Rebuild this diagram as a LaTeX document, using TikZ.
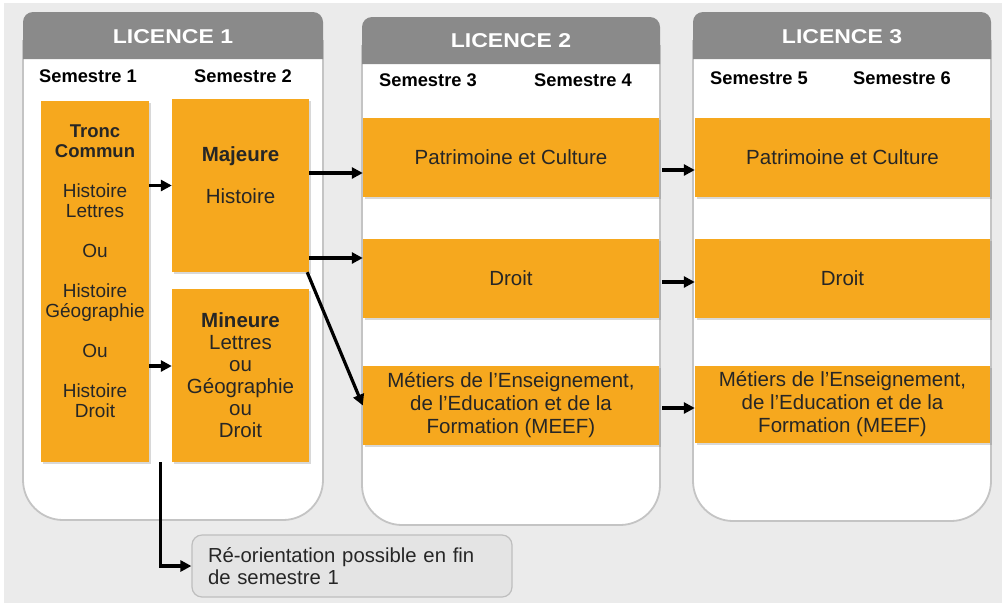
\documentclass[tikz,border=0pt]{standalone}
\usepackage{fontspec}
\setmainfont{Liberation Sans}
\usepackage{xcolor}
\usepackage{graphicx}
\usetikzlibrary{arrows.meta,shadows}
\definecolor{orangebox}{HTML}{F6A81E}
\definecolor{headgray}{HTML}{8A8A8A}
\definecolor{panelline}{HTML}{C4C4C4}
\definecolor{backgray}{HTML}{EBEBEB}
\definecolor{notegray}{HTML}{E4E4E4}
\definecolor{noteline}{HTML}{BEBEBE}

\begin{document}
\begin{tikzpicture}[x=1pt,y=-1pt,
  box/.style={fill=orangebox, inner sep=0pt, align=center, text=black!85,
    font=\fontsize{20.5}{22}\selectfont,
    drop shadow={shadow xshift=1.5pt,shadow yshift=-2pt,opacity=.3}},
  sem/.style={font=\fontsize{18.3}{20}\selectfont\bfseries},
  titre/.style={font=\fontsize{20}{22}\selectfont\bfseries, text=white},
  arr/.style={line width=3.2pt, -{Triangle[length=11pt,width=11pt]}},
  panel/.style={draw=panelline, line width=1.8pt, fill=white},
  note/.style={draw=noteline, line width=1.2pt, fill=notegray, rounded corners=10pt,
    minimum width=320pt, minimum height=62pt, inner xsep=16pt, text width=288pt,
    align=left, font=\fontsize{20.3}{22}\selectfont, text=black!85}]
\useasboundingbox (0,0) rectangle (1008,603);
\fill[white] (0,0) rectangle (1008,603);
\fill[backgray] (4,3) rectangle (1002,603);

% panels
\filldraw[panel, rounded corners=40pt] (23,40) -- (23,520) -- (323,520) -- (323,40);
\fill[headgray, rounded corners=10pt] (23,59) -- (23,12) -- (323,12) -- (323,59);
\filldraw[panel, rounded corners=40pt] (362,45) -- (362,525) -- (660,525) -- (660,45);
\fill[headgray, rounded corners=10pt] (362,64) -- (362,17) -- (660,17) -- (660,64);
\filldraw[panel, rounded corners=40pt] (693,40) -- (693,521) -- (991,521) -- (991,40);
\fill[headgray, rounded corners=10pt] (693,59) -- (693,12) -- (991,12) -- (991,59);

\node[titre] (licence1) at (173,37) {\scalebox{1.15}[1]{LICENCE 1}};
\node[titre] (licence2) at (511,41) {\scalebox{1.15}[1]{LICENCE 2}};
\node[titre] (licence3) at (842,37) {\scalebox{1.15}[1]{LICENCE 3}};

\node[sem] (sem1) at (88,76) {Semestre 1};
\node[sem] (sem2) at (243,76) {Semestre 2};
\node[sem] (sem3) at (428,80) {Semestre 3};
\node[sem] (sem4) at (583,80) {Semestre 4};
\node[sem] (sem5) at (759,78) {Semestre 5};
\node[sem] (sem6) at (902,78) {Semestre 6};

% licence 1
\node[box, minimum width=108pt, minimum height=361pt, font=\fontsize{19}{20}\selectfont] (tronc) at (95,281.5)
  {\textbf{\fontsize{18.5}{20}\selectfont Tronc}\\\textbf{\fontsize{18.5}{20}\selectfont Commun}\\[20pt]
   Histoire\\Lettres\\[20pt]Ou\\[20pt]Histoire\\Géographie\\[20pt]Ou\\[20pt]Histoire\\Droit\\\mbox{}};
\node[box, minimum width=137pt, minimum height=173pt, font=\fontsize{20.5}{20}\selectfont] (majeure) at (240.5,185.5)
  {\textbf{Majeure}\\[22pt]Histoire\\\mbox{}};
\node[box, minimum width=137pt, minimum height=173pt] (mineure) at (240.5,375.5)
  {\textbf{Mineure}\\Lettres\\ou\\Géographie\\ou\\Droit};

% licence 2
\node[box, minimum width=296pt, minimum height=79pt] (patr2) at (511,157.5) {Patrimoine et Culture};
\node[box, minimum width=296pt, minimum height=79pt] (droit2) at (511,278.5) {Droit};
\node[box, minimum width=296pt, minimum height=79pt, font=\fontsize{20.5}{23}\selectfont] (meef2) at (511,405.5)
  {Métiers de l’Enseignement,\\de l’Education et de la\\Formation (MEEF)};

% licence 3
\node[box, minimum width=295pt, minimum height=79pt] (patr3) at (842.5,157.5) {Patrimoine et Culture};
\node[box, minimum width=295pt, minimum height=79pt] (droit3) at (842.5,278.5) {Droit};
\node[box, minimum width=295pt, minimum height=77pt, font=\fontsize{20.5}{23}\selectfont] (meef3) at (842.5,404.5)
  {Métiers de l’Enseignement,\\de l’Education et de la\\Formation (MEEF)};

\node[note] (reo) at (352,566) {Ré-orientation possible en fin\\de semestre 1};

% arrows
\coordinate (mi) at ([yshift=9.5pt]mineure.west);
\coordinate (p2) at ([yshift=-15.5pt]patr2.west);
\coordinate (d2) at ([yshift=20.5pt]droit2.west);
\coordinate (p3) at ([yshift=-12.5pt]patr3.west);
\coordinate (d3) at ([yshift=-3.5pt]droit3.west);
\coordinate (m3) at ([yshift=-3.5pt]meef3.west);
\draw[arr] (tronc.east |- majeure.west) -- (majeure.west);
\draw[arr] (tronc.east |- mi) -- (mi);
\draw[arr] (majeure.east |- p2) -- (p2);
\draw[arr] (majeure.east |- d2) -- (d2);
\draw[arr] ([xshift=-2pt]majeure.south east) -- (meef2.west);
\draw[arr, shorten <=3pt] (patr2.east |- p3) -- (p3);
\draw[arr, shorten <=3pt] (droit2.east |- d3) -- (d3);
\draw[arr, shorten <=3pt] (meef2.east |- m3) -- (m3);
\draw[arr] ([xshift=-11pt]mineure.south west) |- (reo.west);
\end{tikzpicture}
\end{document}
